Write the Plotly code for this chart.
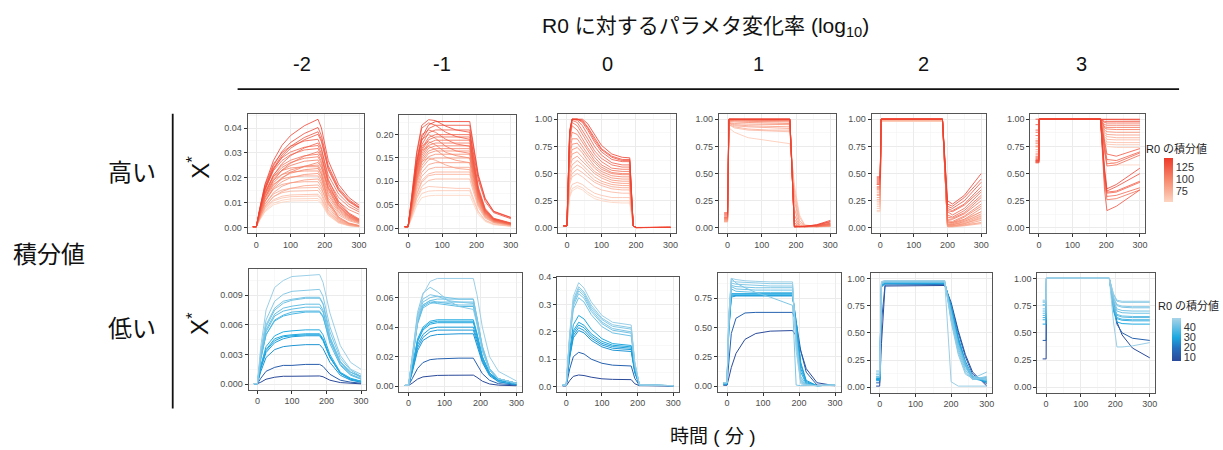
import plotly.graph_objects as go
from plotly.colors import sample_colorscale

W, H = 1223, 450

# ---------------- DATA ----------------
COL_LABELS = ["-2", "-1", "0", "1", "2", "3"]
ROW_LABELS = ["高い", "低い"]
RED_TICKS = [75, 100, 125]
BLUE_TICKS = [10, 20, 30, 40]
RED_RANGE = [53, 143]
BLUE_RANGE = [6, 49]
X_TICKS = [0, 100, 200, 300]

# --- high integral, log10 change = -2
T_H1 = [-10, 0, 10, 25, 50, 75, 100, 140, 180, 190, 210, 240, 270, 300]
H1 = [
    [.0005, .0005, .0078, .0174, .0270, .0331, .0370, .0409, .0435, .0400, .0270, .0174, .0122, .0091],
    [.0005, .0005, .0072, .0161, .0249, .0306, .0342, .0378, .0402, .0370, .0249, .0161, .0113, .0084],
    [.0005, .0005, .0069, .0154, .0239, .0293, .0327, .0362, .0385, .0354, .0239, .0154, .0108, .0081],
    [.0005, .0005, .0068, .0150, .0233, .0285, .0319, .0353, .0375, .0345, .0233, .0150, .0105, .0079],
    [.0005, .0005, .0078, .0170, .0256, .0302, .0327, .0348, .0355, .0320, .0195, .0107, .0060, .0036],
    [.0005, .0005, .0061, .0136, .0211, .0258, .0289, .0320, .0340, .0313, .0211, .0136, .0095, .0071],
    [.0005, .0005, .0073, .0158, .0238, .0281, .0304, .0323, .0330, .0297, .0182, .0099, .0056, .0033],
    [.0005, .0005, .0070, .0153, .0229, .0270, .0293, .0312, .0318, .0286, .0175, .0095, .0054, .0032],
    [.0005, .0005, .0055, .0122, .0189, .0232, .0259, .0287, .0305, .0281, .0189, .0122, .0085, .0064],
    [.0005, .0005, .0065, .0142, .0212, .0251, .0271, .0289, .0295, .0266, .0162, .0089, .0050, .0030],
    [.0005, .0005, .0063, .0137, .0205, .0242, .0262, .0279, .0285, .0257, .0157, .0086, .0048, .0029],
    [.0005, .0005, .0060, .0131, .0196, .0231, .0250, .0267, .0272, .0245, .0150, .0082, .0046, .0027],
    [.0005, .0005, .0047, .0105, .0162, .0199, .0223, .0246, .0262, .0241, .0162, .0105, .0073, .0055],
    [.0005, .0005, .0055, .0121, .0181, .0214, .0232, .0247, .0252, .0227, .0139, .0076, .0043, .0025],
    [.0005, .0005, .0069, .0142, .0206, .0230, .0240, .0245, .0245, .0216, .0110, .0044, .0020, .0010],
    [.0005, .0005, .0052, .0114, .0171, .0202, .0219, .0233, .0238, .0214, .0131, .0071, .0040, .0024],
    [.0005, .0005, .0064, .0132, .0192, .0214, .0223, .0228, .0228, .0201, .0103, .0041, .0018, .0009],
    [.0005, .0005, .0048, .0105, .0157, .0185, .0201, .0214, .0218, .0196, .0120, .0065, .0037, .0022],
    [.0005, .0005, .0058, .0121, .0175, .0196, .0204, .0208, .0208, .0183, .0094, .0037, .0017, .0008],
    [.0005, .0005, .0043, .0094, .0141, .0167, .0180, .0192, .0196, .0176, .0108, .0059, .0033, .0020],
    [.0005, .0005, .0052, .0107, .0155, .0174, .0181, .0185, .0185, .0163, .0083, .0033, .0015, .0007],
    [.0005, .0005, .0038, .0083, .0124, .0146, .0158, .0169, .0172, .0155, .0095, .0052, .0029, .0017],
    [.0005, .0005, .0045, .0094, .0136, .0152, .0159, .0162, .0162, .0143, .0073, .0029, .0013, .0006],
    [.0005, .0005, .0042, .0087, .0126, .0141, .0147, .0150, .0150, .0132, .0068, .0027, .0012, .0006],
    [.0005, .0005, .0038, .0078, .0113, .0127, .0132, .0135, .0135, .0119, .0061, .0024, .0011, .0005],
    [.0005, .0005, .0036, .0074, .0108, .0120, .0125, .0128, .0128, .0113, .0058, .0023, .0010, .0005],
    [.0005, .0005, .0033, .0068, .0099, .0111, .0116, .0118, .0118, .0104, .0053, .0021, .0009, .0005],
    [.0005, .0005, .0031, .0064, .0092, .0103, .0108, .0110, .0110, .0097, .0050, .0020, .0009, .0004],
]
H1_R0 = [140, 135, 130, 128, 125, 122, 120, 118, 115, 112, 110, 108, 106, 104,
         102, 100, 98, 95, 92, 90, 86, 84, 80, 76, 70, 66, 60, 55]

# --- high, -1
T_H2 = [-10, 0, 10, 25, 40, 60, 80, 110, 140, 180, 190, 205, 225, 250, 300]
H2 = [
    [.003, .003, .057, .141, .194, .221, .228, .228, .228, .228, .182, .114, .064, .036, .023],
    [.003, .003, .065, .162, .220, .232, .230, .218, .210, .205, .164, .103, .057, .033, .020],
    [.003, .003, .055, .136, .187, .213, .220, .220, .220, .220, .176, .110, .062, .035, .022],
    [.003, .003, .063, .158, .214, .225, .220, .205, .196, .190, .143, .080, .038, .019, .010],
    [.003, .003, .052, .130, .178, .204, .210, .210, .210, .210, .158, .088, .042, .021, .011],
    [.003, .003, .050, .124, .170, .194, .200, .200, .200, .200, .150, .084, .040, .020, .010],
    [.003, .003, .059, .147, .200, .210, .205, .190, .180, .175, .131, .074, .035, .018, .009],
    [.003, .003, .049, .121, .166, .189, .195, .195, .195, .195, .146, .082, .039, .020, .010],
    [.003, .003, .047, .117, .160, .182, .188, .188, .188, .188, .141, .079, .038, .019, .009],
    [.003, .003, .056, .140, .190, .200, .192, .175, .165, .160, .120, .067, .032, .016, .008],
    [.003, .003, .046, .113, .155, .177, .182, .182, .182, .182, .137, .076, .036, .018, .009],
    [.003, .003, .044, .109, .150, .171, .176, .176, .176, .176, .132, .074, .035, .018, .009],
    [.003, .003, .043, .105, .145, .165, .170, .170, .170, .170, .128, .071, .034, .017, .008],
    [.003, .003, .052, .130, .176, .185, .178, .162, .155, .150, .113, .063, .030, .015, .007],
    [.003, .003, .041, .102, .140, .160, .165, .165, .165, .165, .124, .069, .033, .017, .008],
    [.003, .003, .040, .098, .134, .153, .158, .158, .158, .158, .119, .066, .032, .016, .008],
    [.003, .003, .049, .123, .166, .175, .168, .152, .145, .140, .105, .059, .028, .014, .007],
    [.003, .003, .038, .093, .128, .146, .150, .150, .150, .150, .113, .063, .030, .015, .008],
    [.003, .003, .035, .087, .119, .136, .140, .140, .140, .140, .105, .059, .028, .014, .007],
    [.003, .003, .042, .105, .143, .150, .145, .135, .128, .125, .094, .053, .025, .013, .006],
    [.003, .003, .033, .081, .111, .126, .130, .130, .130, .130, .098, .055, .026, .013, .007],
    [.003, .003, .030, .074, .102, .116, .120, .120, .120, .120, .090, .050, .024, .012, .006],
    [.003, .003, .029, .071, .098, .112, .115, .115, .115, .115, .086, .048, .023, .012, .006],
    [.003, .003, .026, .065, .089, .102, .105, .105, .105, .105, .079, .044, .021, .011, .005],
    [.003, .003, .025, .063, .083, .089, .088, .086, .085, .085, .064, .036, .017, .009, .004],
    [.003, .003, .022, .055, .074, .079, .080, .080, .080, .080, .060, .034, .016, .008, .004],
    [.003, .003, .019, .048, .065, .069, .070, .070, .070, .070, .053, .029, .014, .007, .004],
]
H2_R0 = [140, 135, 132, 128, 126, 122, 120, 118, 115, 112, 110, 108, 105, 103,
         100, 98, 95, 92, 90, 86, 84, 80, 78, 74, 66, 62, 55]

# --- high, 0
T_H3 = [-10, 0, 8, 15, 30, 45, 60, 80, 100, 130, 160, 182, 192, 200, 300]
H3 = [
    [.02, .02, .90, 1.0, 1.0, 1.0, .96, .86, .76, .68, .65, .645, .02, .005, .006],
    [.02, .02, .88, 1.0, 1.0, .99, .93, .83, .73, .66, .63, .63, .02, .004, .006],
    [.02, .02, .87, 1.0, 1.0, .98, .92, .81, .72, .65, .62, .62, .02, .004, .006],
    [.02, .02, .86, 1.0, 1.0, .97, .90, .79, .70, .63, .61, .61, .02, .004, .006],
    [.02, .02, .85, 1.0, .99, .94, .86, .75, .67, .60, .58, .58, .02, .004, .006],
    [.02, .02, .84, .99, .97, .90, .82, .71, .64, .58, .56, .56, .02, .004, .005],
    [.02, .02, .82, .97, .94, .86, .78, .68, .61, .55, .54, .54, .02, .004, .005],
    [.02, .02, .80, .94, .90, .82, .74, .65, .58, .53, .52, .52, .02, .004, .005],
    [.02, .02, .75, .88, .86, .79, .71, .62, .56, .51, .50, .50, .02, .004, .005],
    [.02, .02, .70, .82, .82, .75, .68, .60, .54, .50, .49, .49, .02, .004, .005],
    [.02, .02, .66, .77, .78, .72, .65, .57, .52, .48, .47, .47, .02, .004, .005],
    [.02, .02, .62, .72, .74, .69, .62, .55, .50, .46, .45, .45, .02, .004, .005],
    [.02, .02, .58, .68, .70, .65, .59, .52, .48, .44, .43, .43, .02, .004, .005],
    [.02, .02, .54, .63, .66, .61, .56, .50, .46, .42, .41, .41, .02, .004, .005],
    [.02, .02, .50, .58, .62, .58, .53, .47, .43, .40, .39, .39, .02, .004, .005],
    [.02, .02, .46, .54, .58, .55, .50, .44, .41, .38, .37, .37, .02, .004, .005],
    [.02, .02, .43, .50, .54, .51, .47, .42, .39, .36, .35, .35, .02, .004, .005],
    [.02, .02, .40, .47, .50, .47, .43, .38, .35, .33, .32, .32, .02, .004, .005],
    [.02, .02, .34, .40, .42, .40, .36, .32, .30, .28, .28, .28, .02, .004, .005],
    [.02, .02, .30, .36, .39, .37, .33, .29, .27, .25, .25, .25, .02, .004, .005],
    [.02, .02, .28, .34, .37, .35, .31, .27, .25, .235, .23, .23, .02, .004, .005],
]
H3_R0 = [140, 135, 132, 130, 126, 122, 118, 114, 110, 106, 102, 98, 94, 90, 86,
         82, 78, 72, 66, 60, 55]

# --- high, 1
T_H4 = [-10, 0, 4, 20, 60, 120, 182, 195, 210, 225, 260, 300]
H4 = [
    [.140, .140, 1.0, 1.0, 1.0, 1.0, 1.0, .010, .012, .015, .030, .070],
    [.130, .130, 1.0, 1.0, 1.0, 1.0, 1.0, .010, .012, .014, .028, .060],
    [.120, .120, 1.0, 1.0, 1.0, 1.0, 1.0, .010, .012, .014, .025, .055],
    [.110, .110, 1.0, 1.0, 1.0, 1.0, 1.0, .012, .012, .013, .022, .045],
    [.100, .100, 1.0, 1.0, 1.0, 1.0, 1.0, .015, .012, .013, .020, .040],
    [.095, .095, 1.0, 1.0, .995, .990, .990, .020, .012, .012, .018, .035],
    [.090, .090, .990, .990, .990, .985, .985, .030, .012, .012, .016, .030],
    [.085, .085, .990, .985, .980, .975, .975, .050, .012, .012, .015, .028],
    [.080, .080, .980, .975, .970, .965, .960, .080, .015, .012, .014, .025],
    [.075, .075, .970, .960, .955, .950, .950, .120, .020, .012, .013, .022],
    [.070, .070, .965, .950, .940, .935, .930, .180, .030, .012, .012, .020],
    [.065, .065, .960, .940, .930, .920, .915, .250, .050, .015, .012, .018],
    [.060, .060, .950, .930, .910, .900, .900, .300, .070, .020, .012, .016],
    [.058, .058, .950, .920, .900, .890, .885, .350, .100, .025, .012, .015],
    [.055, .055, .920, .880, .830, .800, .775, .400, .120, .030, .012, .014],
]
H4_R0 = [140, 135, 130, 125, 120, 115, 110, 105, 100, 95, 90, 85, 80, 72, 62]

# --- high, 2
T_H5 = [-10, 0, 3, 185, 200, 215, 250, 300]
H5 = [
    [.47, .47, 1.0, 1.0, .25, .22, .30, .50],
    [.46, .46, 1.0, 1.0, .22, .20, .28, .45],
    [.45, .45, 1.0, 1.0, .20, .18, .25, .42],
    [.44, .44, 1.0, 1.0, .18, .16, .22, .38],
    [.43, .43, 1.0, 1.0, .16, .15, .21, .35],
    [.42, .42, 1.0, 1.0, .15, .12, .18, .33],
    [.41, .41, 1.0, 1.0, .12, .10, .16, .30],
    [.40, .40, 1.0, 1.0, .10, .09, .14, .28],
    [.40, .40, 1.0, 1.0, .08, .08, .13, .25],
    [.38, .38, 1.0, 1.0, .07, .06, .11, .22],
    [.37, .37, 1.0, 1.0, .06, .05, .10, .20],
    [.36, .36, 1.0, 1.0, .05, .05, .08, .18],
    [.35, .35, 1.0, 1.0, .04, .04, .07, .15],
    [.33, .33, 1.0, 1.0, .03, .03, .06, .13],
    [.31, .31, 1.0, 1.0, .03, .03, .05, .11],
    [.30, .30, 1.0, 1.0, .02, .02, .04, .09],
    [.28, .28, 1.0, 1.0, .02, .02, .03, .07],
    [.26, .26, 1.0, 1.0, .015, .015, .025, .05],
    [.24, .24, 1.0, 1.0, .01, .01, .02, .04],
    [.22, .22, .99, .99, .02, .02, .04, .10],
    [.20, .20, .99, .99, .03, .04, .08, .15],
    [.18, .18, .985, .985, .02, .03, .06, .12],
    [.16, .16, .98, .98, .015, .02, .04, .08],
    [.15, .15, .98, .98, .01, .015, .03, .05],
]
H5_R0 = [140, 136, 132, 128, 125, 122, 119, 116, 113, 110, 107, 104, 101, 98,
         95, 92, 88, 84, 80, 75, 70, 65, 60, 55]

# --- high, 3
T_H6 = [-10, 0, 1, 183, 195, 202, 230, 300]
H6 = [
    [1.0, 1.0, 1.0, 1.0, 1.0, 1.0, 1.0, 1.0],
    [.95, .95, 1.0, 1.0, .995, .995, .995, .995],
    [.90, .90, 1.0, 1.0, .98, .98, .98, .98],
    [.88, .88, 1.0, 1.0, .97, .965, .965, .965],
    [.85, .85, 1.0, 1.0, .95, .945, .945, .945],
    [.80, .80, 1.0, 1.0, .93, .925, .925, .925],
    [.78, .78, 1.0, 1.0, .92, .91, .905, .905],
    [.75, .75, 1.0, 1.0, .90, .885, .88, .88],
    [.72, .72, 1.0, 1.0, .88, .86, .855, .855],
    [.70, .70, 1.0, 1.0, .86, .84, .83, .83],
    [.76, .76, 1.0, 1.0, .84, .815, .81, .81],
    [.80, .80, 1.0, 1.0, .82, .79, .785, .785],
    [.82, .82, 1.0, 1.0, .80, .77, .765, .765],
    [.78, .78, 1.0, 1.0, .78, .75, .74, .74],
    [.74, .74, 1.0, 1.0, .72, .62, .58, .58],
    [.68, .68, 1.0, 1.0, .80, .68, .66, .73],
    [.66, .66, 1.0, 1.0, .76, .63, .62, .70],
    [.65, .65, 1.0, 1.0, .72, .59, .60, .69],
    [.64, .64, 1.0, 1.0, .70, .57, .58, .67],
    [.62, .62, 1.0, 1.0, .55, .36, .40, .55],
    [.61, .61, 1.0, 1.0, .52, .34, .38, .50],
    [.60, .60, 1.0, 1.0, .50, .33, .34, .43],
    [.60, .60, 1.0, 1.0, .48, .32, .33, .42],
    [.62, .62, 1.0, 1.0, .45, .29, .30, .37],
    [.61, .61, 1.0, 1.0, .42, .26, .27, .35],
    [.63, .63, 1.0, 1.0, .35, .16, .20, .35],
]
H6_R0 = [140, 135, 130, 125, 120, 115, 110, 100, 90, 80, 75, 70, 65, 60, 55,
         128, 124, 120, 116, 138, 134, 126, 122, 118, 114, 130]

# --- low integral, -2
T_L1 = [-10, 0, 10, 25, 50, 75, 100, 140, 180, 190, 210, 240, 270, 300]
L1 = [
    [.00005, .00005, .0039, .0075, .0098, .0105, .0109, .0110, .0111, .0103, .0072, .0039, .0022, .0015],
    [.00005, .00005, .0034, .0065, .0084, .0091, .0094, .0095, .0096, .0089, .0058, .0029, .0015, .0010],
    [.00005, .00005, .0031, .0060, .0077, .0084, .0086, .0088, .0088, .0082, .0053, .0026, .0014, .0008],
    [.00005, .00005, .0030, .0058, .0075, .0082, .0085, .0087, .0087, .0081, .0048, .0022, .0010, .0006],
    [.00005, .00005, .0028, .0055, .0071, .0077, .0079, .0081, .0081, .0075, .0045, .0020, .0010, .0005],
    [.00005, .00005, .0027, .0053, .0069, .0074, .0076, .0078, .0078, .0073, .0047, .0023, .0012, .0007],
    [.00005, .00005, .0026, .0050, .0065, .0070, .0073, .0074, .0074, .0069, .0041, .0019, .0009, .0005],
    [.00005, .00005, .0026, .0050, .0064, .0069, .0071, .0073, .0073, .0068, .0044, .0022, .0012, .0008],
    [.00005, .00005, .0019, .0038, .0049, .0053, .0054, .0055, .0055, .0050, .0030, .0012, .0006, .0003],
    [.00005, .00005, .0018, .0035, .0046, .0049, .0050, .0051, .0051, .0046, .0028, .0011, .0005, .0003],
    [.00005, .00005, .0017, .0034, .0044, .0048, .0049, .0050, .0050, .0045, .0027, .0011, .0005, .0003],
    [.00005, .00005, .0016, .0032, .0042, .0046, .0048, .0049, .0049, .0044, .0027, .0011, .0005, .0002],
    [.00005, .00005, .0013, .0027, .0035, .0038, .0039, .0040, .0040, .0036, .0022, .0009, .0004, .0002],
    [.00005, .00005, .0006, .0013, .0017, .0019, .0019, .0020, .0020, .0018, .0010, .0004, .0002, .0001],
    [.00005, .00005, .0002, .0005, .0007, .0008, .0008, .00082, .00083, .00075, .0004, .00016, .00007, .00003],
]
L1_R0 = [47, 44, 42, 41, 40, 39, 37, 36, 31, 30, 29, 28, 26, 12, 6]

# --- low, -1
T_L2 = [-10, 0, 10, 25, 40, 60, 80, 110, 140, 180, 190, 205, 225, 250, 300]
L2 = [
    [.0005, .0005, .018, .045, .062, .071, .073, .073, .073, .073, .062, .040, .020, .010, .0035],
    [.0005, .0005, .020, .050, .063, .067, .064, .058, .054, .052, .042, .024, .011, .005, .002],
    [.0005, .0005, .019, .048, .059, .062, .061, .058, .057, .056, .045, .025, .011, .005, .002],
    [.0005, .0005, .018, .046, .057, .060, .061, .060, .059, .059, .047, .027, .012, .005, .002],
    [.0005, .0005, .017, .044, .055, .058, .059, .059, .059, .059, .047, .027, .012, .005, .002],
    [.0005, .0005, .017, .044, .055, .058, .057, .056, .055, .055, .044, .025, .011, .005, .002],
    [.0005, .0005, .016, .042, .053, .056, .057, .057, .057, .057, .046, .026, .011, .005, .002],
    [.0005, .0005, .017, .043, .054, .057, .056, .055, .054, .054, .043, .024, .011, .005, .002],
    [.0005, .0005, .012, .032, .040, .044, .045, .045, .045, .045, .036, .020, .009, .004, .002],
    [.0005, .0005, .012, .031, .039, .043, .044, .044, .044, .044, .035, .020, .009, .004, .002],
    [.0005, .0005, .011, .030, .038, .042, .043, .043, .043, .043, .034, .019, .009, .004, .002],
    [.0005, .0005, .011, .028, .035, .039, .040, .040, .040, .040, .032, .018, .008, .004, .002],
    [.0005, .0005, .010, .026, .033, .037, .038, .038, .038, .038, .030, .017, .008, .003, .001],
    [.0005, .0005, .009, .024, .031, .034, .035, .0355, .0355, .0355, .028, .016, .007, .003, .001],
    [.0005, .0005, .005, .012, .016, .018, .0185, .019, .019, .019, .015, .0085, .004, .0017, .0008],
    [.0005, .0005, .002, .0048, .0063, .0070, .0073, .0074, .0075, .0075, .006, .0034, .0015, .0007, .0003],
]
L2_R0 = [47, 44, 43, 42, 41, 40, 39, 38, 31, 30, 29, 28, 27, 26, 14, 6]

# --- low, 0
T_L3 = [-10, 0, 10, 20, 35, 50, 70, 100, 130, 182, 192, 205, 300]
L3 = [
    [.005, .005, .200, .330, .380, .360, .310, .260, .235, .225, .090, .006, .003],
    [.005, .005, .190, .318, .365, .346, .298, .250, .226, .215, .086, .006, .003],
    [.005, .005, .186, .310, .358, .340, .290, .245, .220, .210, .084, .006, .003],
    [.005, .005, .182, .305, .350, .332, .283, .236, .212, .200, .080, .006, .003],
    [.005, .005, .177, .296, .340, .323, .275, .230, .206, .195, .078, .006, .003],
    [.005, .005, .170, .283, .325, .309, .263, .219, .196, .185, .074, .006, .003],
    [.004, .004, .135, .226, .260, .247, .210, .175, .157, .150, .060, .005, .003],
    [.004, .004, .122, .204, .235, .224, .193, .165, .151, .145, .058, .005, .003],
    [.004, .004, .117, .196, .225, .215, .185, .158, .146, .140, .056, .005, .003],
    [.004, .004, .112, .187, .215, .205, .177, .152, .140, .135, .054, .005, .003],
    [.004, .004, .107, .178, .205, .196, .169, .145, .133, .128, .050, .005, .003],
    [.003, .003, .065, .109, .125, .119, .100, .085, .078, .075, .030, .004, .002],
    [.002, .002, .022, .037, .042, .040, .034, .028, .026, .025, .010, .003, .002],
]
L3_R0 = [47, 45, 44, 43, 42, 41, 30, 29, 28, 27, 26, 14, 6]

# --- low, 1
T_L4 = [-10, 0, 5, 12, 25, 50, 80, 120, 182, 192, 205, 220, 250, 300]
L4 = [
    [.03, .03, .60, .92, .91, .90, .895, .89, .89, .30, .02, .01, .005, .01],
    [.03, .03, .58, .90, .89, .885, .88, .875, .875, .35, .03, .01, .005, .01],
    [.03, .03, .56, .88, .87, .865, .86, .855, .855, .38, .04, .01, .005, .01],
    [.03, .03, .60, .92, .88, .84, .80, .76, .69, .01, .005, .005, .005, .01],
    [.03, .03, .55, .86, .85, .845, .84, .84, .84, .40, .05, .01, .005, .01],
    [.03, .03, .54, .85, .83, .825, .82, .82, .82, .42, .06, .01, .005, .01],
    [.03, .03, .53, .83, .81, .805, .80, .80, .80, .45, .08, .015, .005, .01],
    [.02, .02, .50, .79, .79, .79, .79, .79, .79, .50, .12, .02, .005, .01],
    [.02, .02, .49, .78, .78, .78, .78, .78, .78, .52, .15, .03, .005, .01],
    [.02, .02, .48, .77, .775, .775, .775, .775, .775, .55, .18, .04, .005, .01],
    [.02, .02, .47, .76, .77, .77, .77, .77, .77, .56, .20, .05, .005, .01],
    [.01, .01, .20, .45, .58, .625, .63, .63, .63, .55, .30, .12, .01, .005],
    [.01, .01, .07, .16, .28, .40, .45, .47, .475, .43, .30, .15, .03, .005],
]
L4_R0 = [47, 45, 44, 43, 42, 41, 40, 30, 29, 28, 27, 14, 6]

# --- low, 2
T_L5 = [-10, 0, 5, 15, 182, 200, 220, 240, 260, 300]
L5 = [
    [.15, .15, .97, .98, .98, .05, .01, .01, .01, .01],
    [.14, .14, .97, .98, .98, .60, .30, .12, .08, .14],
    [.12, .12, .96, .975, .975, .62, .32, .14, .07, .10],
    [.12, .12, .96, .97, .97, .64, .34, .16, .07, .08],
    [.10, .10, .95, .97, .97, .66, .36, .18, .08, .09],
    [.10, .10, .95, .965, .965, .68, .38, .20, .09, .06],
    [.09, .09, .95, .965, .965, .70, .40, .22, .10, .07],
    [.08, .08, .94, .96, .96, .72, .42, .20, .08, .06],
    [.07, .07, .93, .96, .96, .73, .43, .20, .08, .05],
    [.07, .07, .93, .955, .955, .74, .45, .22, .09, .05],
    [.06, .06, .92, .95, .95, .75, .46, .24, .10, .04],
    [.04, .04, .60, .94, .945, .76, .50, .28, .12, .03],
    [.01, .01, .40, .93, .935, .78, .52, .30, .14, .01],
]
L5_R0 = [47, 45, 44, 43, 42, 41, 40, 30, 29, 28, 27, 14, 6]

# --- low, 3
T_L6 = [-10, 0, 1, 183, 195, 205, 220, 250, 300]
L6 = [
    [.80, .80, 1.0, 1.0, .60, .37, .37, .38, .41],
    [.79, .79, 1.0, 1.0, .86, .80, .79, .79, .79],
    [.78, .78, 1.0, 1.0, .85, .79, .78, .78, .78],
    [.76, .76, 1.0, 1.0, .83, .76, .745, .74, .74],
    [.75, .75, 1.0, 1.0, .82, .75, .735, .73, .73],
    [.72, .72, 1.0, 1.0, .80, .72, .705, .70, .70],
    [.70, .70, 1.0, 1.0, .78, .70, .685, .68, .68],
    [.68, .68, 1.0, 1.0, .76, .67, .655, .65, .65],
    [.66, .66, 1.0, 1.0, .75, .66, .645, .64, .64],
    [.64, .64, 1.0, 1.0, .74, .64, .625, .62, .62],
    [.62, .62, 1.0, 1.0, .73, .63, .615, .61, .61],
    [.58, .58, 1.0, 1.0, .70, .60, .585, .58, .58],
    [.43, .43, 1.0, 1.0, .75, .58, .50, .45, .43],
    [.26, .26, 1.0, 1.0, .80, .60, .48, .36, .27],
]
L6_R0 = [47, 46, 45, 44, 43, 42, 41, 40, 38, 36, 34, 30, 14, 6]

# ---------------- LAYOUT / STYLE ----------------
REDS = [[0, "#FDD5C2"], [0.5, "#F68A6E"], [1, "#EE3A2A"]]
BLUES = [[0, "#2B4A9A"], [0.3, "#2470BE"], [0.55, "#1DA8E0"], [1, "#AAD4E8"]]

# pixel boxes (left, right, top, bottom), y ranges, tick steps, formats
PANELS = [
    (T_H1, H1, H1_R0, "R", (248, 365, 110, 231), [-0.0022, 0.0457], 0.01, ".2f"),
    (T_H2, H2, H2_R0, "R", (400, 517, 111, 231), [-0.0115, 0.2425], 0.05, ".2f"),
    (T_H3, H3, H3_R0, "R", (559, 677, 110, 231), [-0.05, 1.05], 0.25, ".2f"),
    (T_H4, H4, H4_R0, "R", (720, 837, 110, 231), [-0.05, 1.05], 0.25, ".2f"),
    (T_H5, H5, H5_R0, "R", (873, 988, 110, 231), [-0.05, 1.05], 0.25, ".2f"),
    (T_H6, H6, H6_R0, "R", (1032, 1147, 110, 231), [-0.05, 1.05], 0.25, ".2f"),
    (T_L1, L1, L1_R0, "B", (249, 367, 267, 389), [-0.00056, 0.01166], 0.003, ".3f"),
    (T_L2, L2, L2_R0, "B", (400, 523, 271, 391), [-0.0037, 0.0767], 0.02, ".2f"),
    (T_L3, L3, L3_R0, "B", (558, 680, 275, 391), [-0.019, 0.401], 0.1, ".1f"),
    (T_L4, L4, L4_R0, "B", (719, 842, 271, 391), [-0.046, 0.966], 0.25, ".2f"),
    (T_L5, L5, L5_R0, "B", (872, 994, 271, 392), [-0.05, 1.05], 0.25, ".2f"),
    (T_L6, L6, L6_R0, "B", (1039, 1157, 271, 392), [-0.05, 1.05], 0.25, ".2f"),
]

FONT = "Liberation Sans, Arial, Noto Sans CJK JP, sans-serif"
JFONT = "Liberation Sans, Arial, Noto Sans CJK JP, sans-serif"


def color_of(v, scale, rng):
    t = (v - rng[0]) / (rng[1] - rng[0])
    t = min(1.0, max(0.0, t))
    return sample_colorscale(scale, [t])[0]


fig = go.Figure()
layout_axes = {}

for i, (T, curves, r0, kind, box, yr, dt, fmt) in enumerate(PANELS, start=1):
    xa = "x" if i == 1 else f"x{i}"
    ya = "y" if i == 1 else f"y{i}"
    scale = REDS if kind == "R" else BLUES
    rng = RED_RANGE if kind == "R" else BLUE_RANGE
    width = 0.8 if kind == "R" else 1.0
    order = sorted(range(len(curves)), key=lambda k: r0[k])
    for k in order:
        fig.add_trace(go.Scatter(
            x=T, y=curves[k], mode="lines",
            line=dict(color=color_of(r0[k], scale, rng), width=width),
            xaxis=xa, yaxis=ya, showlegend=False, hoverinfo="skip"))
    l, r, t, b = box
    common = dict(
        showline=True, mirror=True, linecolor="#555555", linewidth=1,
        ticks="outside", ticklen=3, tickcolor="#333333", tickwidth=1,
        tickfont=dict(size=9, color="#4D4D4D", family=FONT),
        showgrid=True, gridcolor="#EBEBEB", gridwidth=1, zeroline=False,
    )
    layout_axes[f"xaxis{'' if i == 1 else i}"] = dict(
        common, domain=[l / W, r / W], range=[-25.5, 315.5], anchor=ya,
        tickmode="array", tickvals=X_TICKS,
        minor=dict(tickvals=[50, 150, 250], showgrid=True, gridcolor="#F4F4F4", gridwidth=0.6, ticks=""),
    )
    layout_axes[f"yaxis{'' if i == 1 else i}"] = dict(
        common, domain=[1 - b / H, 1 - t / H], range=yr, anchor=xa,
        tickmode="linear", tick0=0, dtick=dt, tickformat=fmt,
        minor=dict(tick0=0, dtick=dt / 2, showgrid=True, gridcolor="#F4F4F4", gridwidth=0.6, ticks=""),
    )

# colorbars
fig.add_trace(go.Scatter(
    x=[-1000], y=[-1000], mode="markers", xaxis="x6", yaxis="y6", showlegend=False, hoverinfo="skip",
    marker=dict(color=[RED_RANGE[0]], cmin=RED_RANGE[0], cmax=RED_RANGE[1], colorscale=REDS, showscale=True,
                colorbar=dict(x=1166 / W, xanchor="left", y=1 - 155 / H, yanchor="top",
                              len=44, lenmode="pixels", thickness=9, xpad=0, ypad=0, outlinewidth=0,
                              tickmode="array", tickvals=RED_TICKS, ticks="",
                              tickfont=dict(size=11, color="#333333", family=FONT)))))
fig.add_trace(go.Scatter(
    x=[-1000], y=[-1000], mode="markers", xaxis="x12", yaxis="y12", showlegend=False, hoverinfo="skip",
    marker=dict(color=[BLUE_RANGE[0]], cmin=BLUE_RANGE[0], cmax=BLUE_RANGE[1], colorscale=BLUES, showscale=True,
                colorbar=dict(x=1174 / W, xanchor="left", y=1 - 317 / H, yanchor="top",
                              len=43, lenmode="pixels", thickness=9, xpad=0, ypad=0, outlinewidth=0,
                              tickmode="array", tickvals=BLUE_TICKS, ticks="",
                              tickfont=dict(size=11, color="#333333", family=FONT)))))


def px_ann(text, x, y, size, family=FONT, angle=0, color="#111111"):
    return dict(text=text, x=x / W, y=1 - y / H, xref="paper", yref="paper",
                xanchor="center", yanchor="middle", showarrow=False, textangle=angle,
                font=dict(size=size, family=family, color=color))


annotations = [
    px_ann("R0 に対するパラメタ変化率 (log<sub>10</sub>)", 707, 22, 21, JFONT),
    px_ann("積分値", 49, 252, 24, JFONT),
    px_ann(ROW_LABELS[0], 132, 169, 24, JFONT),
    px_ann(ROW_LABELS[1], 132, 327, 24, JFONT),
    px_ann("X<sup>*</sup>", 199, 164, 24, FONT, -90),
    px_ann("X<sup>*</sup>", 199, 322, 24, FONT, -90),
    px_ann("時間 ( 分 )", 714, 436, 19, JFONT),
    px_ann("R0 の積分値", 1178, 145, 11, JFONT, 0, "#222222"),
    px_ann("R0 の積分値", 1190, 304, 11, JFONT, 0, "#222222"),
]
for lab, cx in zip(COL_LABELS, [302, 443, 608, 760, 925, 1083]):
    annotations.append(px_ann(lab, cx, 60, 20, FONT))

shapes = [
    dict(type="line", xref="paper", yref="paper", x0=238 / W, x1=1181 / W, y0=1 - 85 / H, y1=1 - 85 / H,
         line=dict(color="#111111", width=1.8)),
    dict(type="line", xref="paper", yref="paper", x0=173 / W, x1=173 / W, y0=1 - 110 / H, y1=1 - 408 / H,
         line=dict(color="#111111", width=1.8)),
]

fig.update_layout(
    width=W, height=H, margin=dict(l=0, r=0, t=0, b=0),
    paper_bgcolor="white", plot_bgcolor="white",
    font=dict(family=FONT), annotations=annotations, shapes=shapes,
    **layout_axes,
)

fig.write_html("out.html", config={"displayModeBar": False, "staticPlot": True},
               post_script="document.body.style.margin='0';document.body.style.overflow='hidden';")
